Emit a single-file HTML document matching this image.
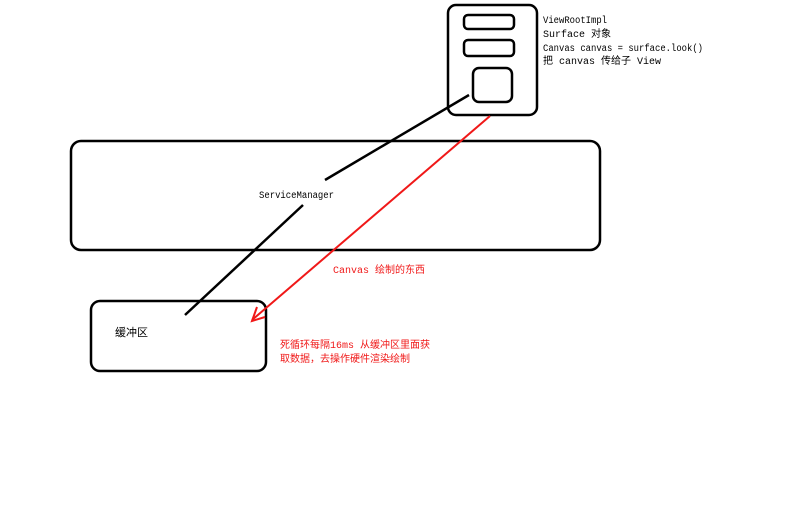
<!DOCTYPE html>
<html><head><meta charset="utf-8"><style>
html,body{margin:0;padding:0;background:#fff;width:800px;height:520px;overflow:hidden}
text{font-family:"Liberation Mono","Noto Sans CJK SC",monospace;font-size:10px}
</style></head><body>
<svg width="800" height="520" xmlns="http://www.w3.org/2000/svg">
<g fill="none" stroke="#000" stroke-width="2.5">
<rect x="448" y="5" width="89" height="110" rx="8"/>
<rect x="464" y="15" width="50" height="14" rx="4"/>
<rect x="464" y="40" width="50" height="16" rx="4"/>
<rect x="473" y="68" width="39" height="34" rx="6"/>
<rect x="71" y="141" width="529" height="109" rx="10"/>
<rect x="91" y="301" width="175" height="70" rx="9"/>
<line x1="469" y1="95" x2="325" y2="180"/>
<line x1="303" y1="205" x2="185" y2="315"/>
</g>
<g fill="none" stroke="#f01818" stroke-width="2">
<line x1="490" y1="116" x2="252" y2="320"/>
<polyline points="257,307 252,321 265,317"/>
</g>
<g fill="#000">
<text x="543" y="23" textLength="64" lengthAdjust="spacingAndGlyphs">ViewRootImpl</text>
<text x="543" y="37">Surface 对象</text>
<text x="543" y="51" textLength="160" lengthAdjust="spacingAndGlyphs">Canvas canvas = surface.look()</text>
<text x="543" y="64">把 canvas 传给子 View</text>
<text x="259" y="198" textLength="75" lengthAdjust="spacingAndGlyphs">ServiceManager</text>
<text x="115" y="336" style="font-size:11px">缓冲区</text>
</g>
<g fill="#f01818">
<text x="333" y="273">Canvas 绘制的东西</text>
<text x="280" y="348">死循环每隔16ms 从缓冲区里面获</text>
<text x="280" y="362">取数据，去操作硬件渲染绘制</text>
</g>
</svg>
</body></html>
